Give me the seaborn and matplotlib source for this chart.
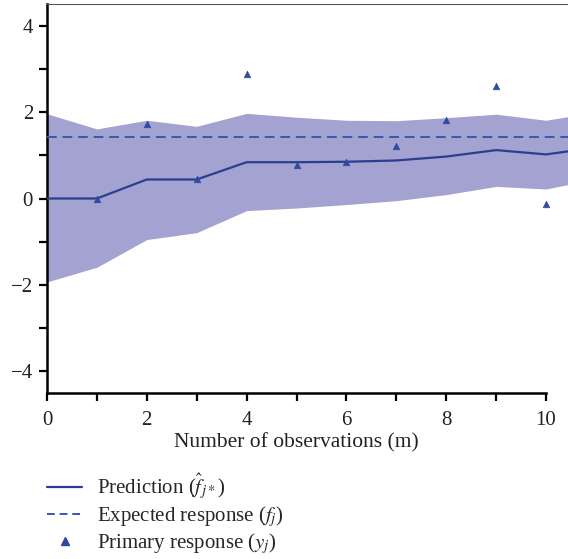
import numpy as np
import pandas as pd
import matplotlib
matplotlib.use("Agg")
import matplotlib.pyplot as plt
from matplotlib.lines import Line2D
from matplotlib.ticker import MultipleLocator, FuncFormatter
import seaborn as sns

# ---- data ----
m_line = [0, 1, 2, 3, 4, 5, 6, 7, 8, 9, 10, 11]
prediction = [0.0, 0.0, 0.44, 0.44, 0.84, 0.84, 0.85, 0.88, 0.97, 1.12, 1.02, 1.18]
upper = [1.96, 1.61, 1.81, 1.67, 1.97, 1.88, 1.81, 1.80, 1.87, 1.95, 1.81, 2.00]
lower = [-1.93, -1.59, -0.95, -0.79, -0.28, -0.22, -0.14, -0.05, 0.09, 0.28, 0.22, 0.45]
m_obs = [1, 2, 3, 4, 5, 6, 7, 8, 9, 10]
primary = [0.0, 1.73, 0.44, 2.87, 0.77, 0.85, 1.22, 1.81, 2.60, -0.13]
expected = 1.42

xlabel = "Number of observations (m)"
legend_labels = [r"Prediction ($\widehat{f}_{j*}$)",
                 r"Expected response ($f_j$)",
                 r"Primary response ($y_j$)"]

line_col = "#2b3e90"
dash_col = "#3a57b0"
fill_col = "#a3a2d0"
mark_col = "#2f4a9f"

sns.set_style("ticks")
plt.rcParams["font.family"] = ["Liberation Serif", "DejaVu Serif"]
plt.rcParams["mathtext.fontset"] = "stix"
plt.rcParams["axes.unicode_minus"] = True

fig = plt.figure(figsize=(5.68, 5.59), dpi=100)
ax = fig.add_axes([47/568, 1 - 393/559, 1 - 47/568, (393 - 4)/559])

df_line = pd.DataFrame({"m": m_line, "pred": prediction, "lo": lower, "hi": upper})
df_obs = pd.DataFrame({"m": m_obs, "y": primary})

ax.fill_between(df_line["m"], df_line["lo"], df_line["hi"], color=fill_col, lw=0, zorder=1)
sns.lineplot(data=df_line, x="m", y="pred", ax=ax, color=line_col, lw=1.6, zorder=3)
ax.axhline(expected, color=dash_col, lw=1.4, ls=(0, (5, 3)), zorder=3)
sns.scatterplot(data=df_obs, x="m", y="y", ax=ax, marker="^", color=mark_col,
                s=22, edgecolor=mark_col, linewidth=0.5, zorder=4)

xmax = 10.44
ax.set_xlim(0, xmax)
ax.set_ylim(-4.5, 4.5)
ax.xaxis.set_major_locator(MultipleLocator(1))
ax.yaxis.set_major_locator(MultipleLocator(1))

def fmt(v, pos):
    iv = int(round(v))
    if iv % 2 != 0:
        return ""
    return str(iv).replace("-", "\u2212")

ax.xaxis.set_major_formatter(FuncFormatter(fmt))
ax.yaxis.set_major_formatter(FuncFormatter(fmt))
ax.tick_params(axis="both", direction="out", length=6, width=1.6, labelsize=15,
               color="black", labelcolor="#222222", pad=4)
ax.tick_params(axis="x", pad=7)
ax.set_xlabel(xlabel, fontsize=15.5, color="#222222")
ax.xaxis.set_label_coords(5 / xmax, -0.102)
ax.set_ylabel("")

for s in ["left", "bottom"]:
    ax.spines[s].set_linewidth(1.8)
    ax.spines[s].set_color("black")
ax.spines["bottom"].set_bounds(0, 10)
ax.spines["top"].set_visible(True)
ax.spines["top"].set_linewidth(0.8)
ax.spines["top"].set_color("#555555")
ax.spines["right"].set_visible(False)

handles = [Line2D([], [], color=line_col, lw=1.6),
           Line2D([], [], color=dash_col, lw=1.4, ls=(0, (4, 2.5))),
           Line2D([], [], color=mark_col, lw=0, marker="^", markersize=6)]
fig.legend(handles, legend_labels, loc="upper left",
           bbox_to_anchor=(47/568, 1 - 472/559), frameon=False, fontsize=15,
           handlelength=1.7, handletextpad=0.7, labelspacing=0.1,
           borderaxespad=0, borderpad=0)

fig.savefig("out.png", dpi=100)
